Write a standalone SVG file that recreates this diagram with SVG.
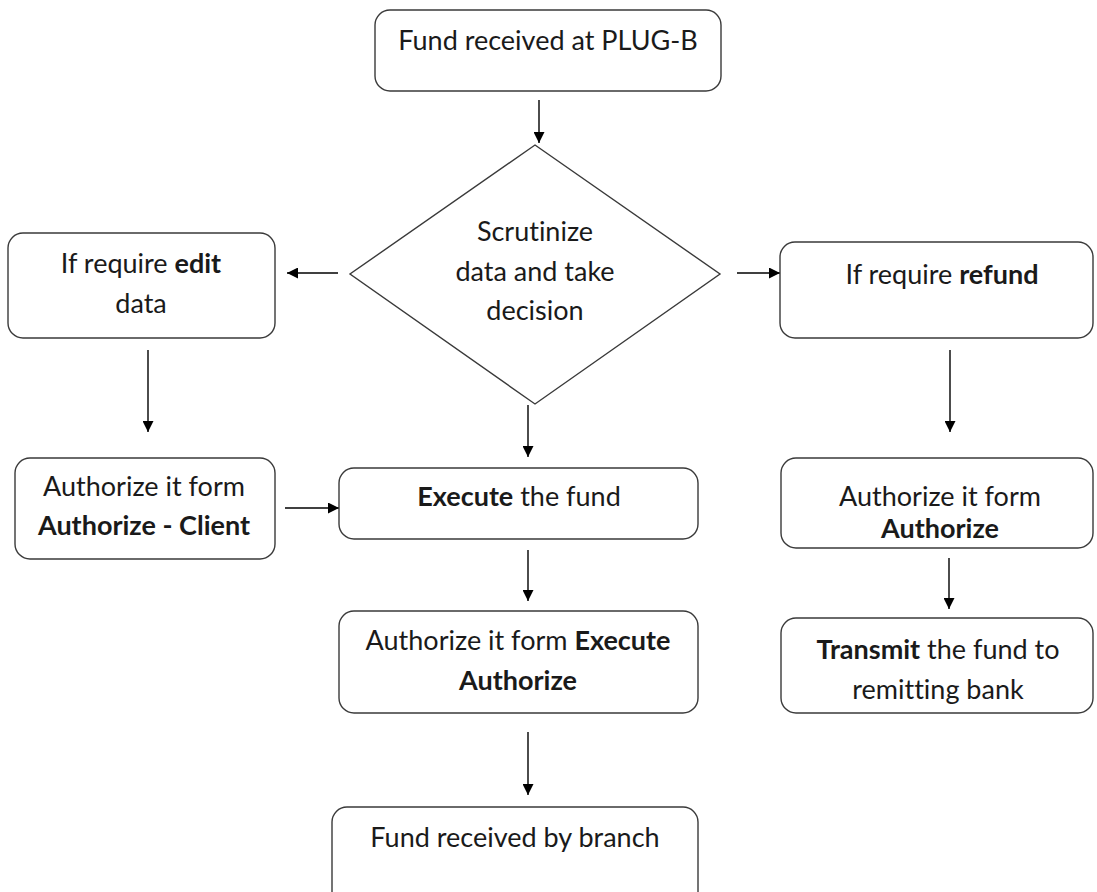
<svg xmlns="http://www.w3.org/2000/svg" width="1097" height="892" viewBox="0 0 1097 892">
  <style>
    .box { fill: #ffffff; stroke: #3a3a3a; stroke-width: 1.4; }
    .lbl { font-family: Lato, "Open Sans", sans-serif; font-size: 27px; fill: #1a1a1a; text-anchor: middle; font-variant-ligatures: none; font-feature-settings: "liga" 0; }
    .b { font-weight: bold; }
    .wire { stroke: #000000; stroke-width: 1.4; fill: none; marker-end: url(#head); }
  </style>
  <defs>
    <marker id="head" viewBox="0 0 10 10" refX="10" refY="5" markerWidth="11" markerHeight="11" markerUnits="userSpaceOnUse" orient="auto">
      <path d="M0,0 L10,5 L0,10 Z" fill="#000000"/>
    </marker>
  </defs>
  <rect width="1097" height="892" fill="#ffffff"/>

  <g id="connectors">
    <line class="wire" x1="539" y1="100" x2="539" y2="143"/>
    <line class="wire" x1="338" y1="273" x2="287" y2="273"/>
    <line class="wire" x1="737" y1="273" x2="780" y2="273"/>
    <line class="wire" x1="148" y1="350" x2="148" y2="432"/>
    <line class="wire" x1="950" y1="350" x2="950" y2="432"/>
    <line class="wire" x1="285" y1="508" x2="339" y2="508"/>
    <line class="wire" x1="528" y1="405" x2="528" y2="457"/>
    <line class="wire" x1="528" y1="550" x2="528" y2="601"/>
    <line class="wire" x1="528" y1="732" x2="528" y2="795"/>
    <line class="wire" x1="949" y1="558" x2="949" y2="609"/>
  </g>

  <g id="start">
    <rect class="box" x="375" y="10" width="346" height="81" rx="15"/>
    <text class="lbl" x="548" y="50">Fund received at PLUG-B</text>
  </g>

  <g id="decision">
    <polygon class="box" points="535,145 720,274 535,404 350,274"/>
    <text class="lbl" x="535" y="241">Scrutinize</text>
    <text class="lbl" x="535" y="281">data and take</text>
    <text class="lbl" x="535" y="320">decision</text>
  </g>

  <g id="edit">
    <rect class="box" x="8" y="233" width="267" height="105" rx="15"/>
    <text class="lbl" x="141" y="273">If require <tspan class="b">edit</tspan></text>
    <text class="lbl" x="141" y="313">data</text>
  </g>

  <g id="refund">
    <rect class="box" x="780" y="242" width="313" height="96" rx="15"/>
    <text class="lbl" x="942" y="284">If require <tspan class="b">refund</tspan></text>
  </g>

  <g id="auth-client">
    <rect class="box" x="15" y="458" width="260" height="101" rx="15"/>
    <text class="lbl" x="144" y="496">Authorize it form</text>
    <text class="lbl b" x="144" y="535">Authorize - Client</text>
  </g>

  <g id="execute">
    <rect class="box" x="339" y="468" width="359" height="71" rx="15"/>
    <text class="lbl" x="519" y="506"><tspan class="b">Execute</tspan> the fund</text>
  </g>

  <g id="exec-auth">
    <rect class="box" x="339" y="611" width="359" height="102" rx="15"/>
    <text class="lbl" x="518" y="650">Authorize it form <tspan class="b">Execute</tspan></text>
    <text class="lbl b" x="518" y="690">Authorize</text>
  </g>

  <g id="branch">
    <rect class="box" x="332" y="807" width="366" height="100" rx="15"/>
    <text class="lbl" x="515" y="847">Fund received by branch</text>
  </g>

  <g id="auth-refund">
    <rect class="box" x="781" y="458" width="312" height="90" rx="15"/>
    <text class="lbl" x="940" y="506">Authorize it form</text>
    <text class="lbl b" x="940" y="538">Authorize</text>
  </g>

  <g id="transmit">
    <rect class="box" x="781" y="618" width="312" height="95" rx="15"/>
    <text class="lbl" x="938" y="659"><tspan class="b">Transmit</tspan> the fund to</text>
    <text class="lbl" x="938" y="699">remitting bank</text>
  </g>
</svg>
